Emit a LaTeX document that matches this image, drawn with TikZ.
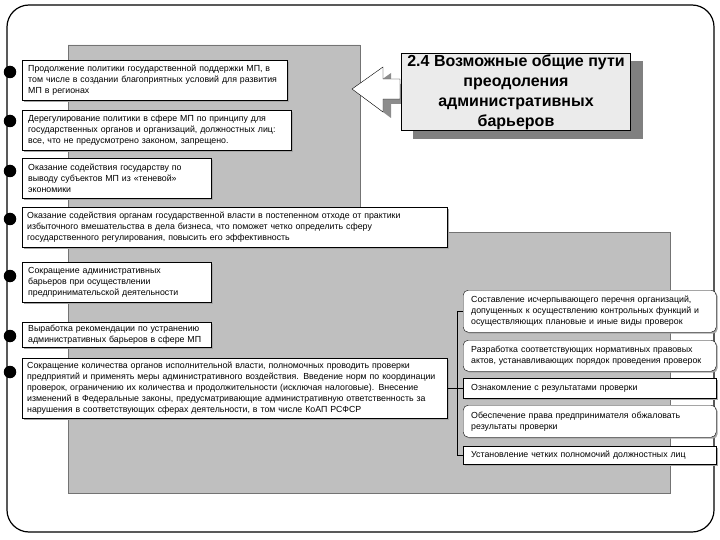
\documentclass[tikz,border=0pt]{standalone}
\usepackage{fontspec}
\setmainfont{Liberation Sans}
\usetikzlibrary{calc,shadows}

\begin{document}
\begin{tikzpicture}[x=1pt,y=-1pt,
    lbox/.style={draw,fill=white,anchor=north west,align=left,inner xsep=6pt,inner ysep=1pt,
      font=\fontsize{8.8}{11}\selectfont,
      drop shadow={shadow xshift=1.5pt,shadow yshift=-1.5pt,fill=black!35,opacity=1}},
    wbox/.style={lbox,inner xsep=5pt,text width=415pt},
    rbox/.style={lbox,inner xsep=8pt,text width=237pt,minimum width=253pt,rounded corners=5pt},
    sqbox/.style={rbox,rounded corners=0pt},
    dot/.style={circle,fill=black,inner sep=0pt,minimum size=12.5pt},
    ttlbox/.style={draw,fill=black!8,align=center,inner xsep=6pt,inner ysep=1pt,
      font=\fontsize{16}{20}\selectfont\bfseries,
      drop shadow={shadow xshift=12pt,shadow yshift=-8pt,fill=black!50,opacity=1}}]
\useasboundingbox (0,0) rectangle (720,540);
% frame and grey panel
\draw[line width=1.2pt,rounded corners=22pt] (7,5) rectangle (714,532);
\filldraw[fill=black!25,draw=black!55,line width=0.8pt] (68,45) -| (360,232) -| (670,493) -| cycle;
% block arrow
\fill[black!45] (408,84) -- (391,84) -- (391,73) -- (360,95) -- (391,118) -- (391,104) -- (408,104) -- cycle;
\filldraw[fill=white,draw=black] (400,79) -- (383,79) -- (383,67) -- (352,89) -- (383,112) -- (383,99) -- (400,99) -- cycle;
\node[ttlbox] (ttl) at (516,92) {2.4 Возможные общие пути\\преодоления\\административных\\барьеров};
% left column
\node[lbox,text width=253pt,minimum height=40pt] (b1) at (22,60) {Продолжение политики государственной поддержки МП, в\\том числе в создании благоприятных условий для развития\\МП в регионах};
\node[lbox,text width=257pt,minimum height=40pt] (b2) at (22,110) {Дерегулирование политики в сфере МП по принципу для\\государственных органов и организаций, должностных лиц:\\все, что не предусмотрено законом, запрещено.};
\node[lbox,text width=177pt,minimum height=40pt] (b3) at (22,158) {Оказание содействия государству по\\выводу субъектов МП из «теневой»\\экономики};
\node[wbox,minimum height=40pt] (b4) at (22,207) {Оказание содействия органам государственной власти в постепенном отходе от практики\\избыточного вмешательства в дела бизнеса, что поможет четко определить сферу\\государственного регулирования, повысить его эффективность};
\node[lbox,text width=177pt,minimum height=40pt] (b5) at (22,262) {Сокращение административных\\барьеров при осуществлении\\предпринимательской деятельности};
\node[lbox,text width=177pt,minimum height=25pt] (b6) at (22,322) {Выработка рекомендации по устранению\\административных барьеров в сфере МП};
\node[wbox,minimum height=60pt] (b7) at (22,358) {Сокращение количества органов исполнительной власти, полномочных проводить проверки\\предприятий и применять меры административного воздействия. Введение норм по координации\\проверок, ограничению их количества и продолжительности (исключая налоговые). Внесение\\изменений в Федеральные законы, предусматривающие административную ответственность за\\нарушения в соответствующих сферах деятельности, в том числе КоАП РСФСР};
\node[dot] (d1) at (10,72) {};
\node[dot] (d2) at (10,121) {};
\node[dot] (d3) at (10,171) {};
\node[dot] (d4) at (10,219) {};
\node[dot] (d5) at (10,276) {};
\node[dot] (d6) at (10,336) {};
\node[dot] (d7) at (10,372) {};
% right column
\node[rbox,minimum height=42pt] (r1) at (463,290) {Составление исчерпывающего перечня организаций,\\допущенных к осуществлению контрольных функций и\\осуществляющих плановые и иные виды проверок};
\node[rbox,minimum height=31pt] (r2) at (463,340) {Разработка соответствующих нормативных правовых\\актов, устанавливающих порядок проведения проверок};
\node[sqbox,minimum height=20pt] (r3) at (463,378) {Ознакомление с результатами проверки};
\node[rbox,minimum height=32pt] (r4) at (463,405) {Обеспечение права предпринимателя обжаловать\\результаты проверки};
\node[sqbox,minimum height=18pt] (r5) at (463,446) {Установление четких полномочий должностных лиц};
\coordinate (sp) at ([xshift=-6pt]r1.west);
\draw (r1.west) -- (sp) |- (r5.west);
\draw (b7.east) -- (r3.west);
\end{tikzpicture}
\end{document}
